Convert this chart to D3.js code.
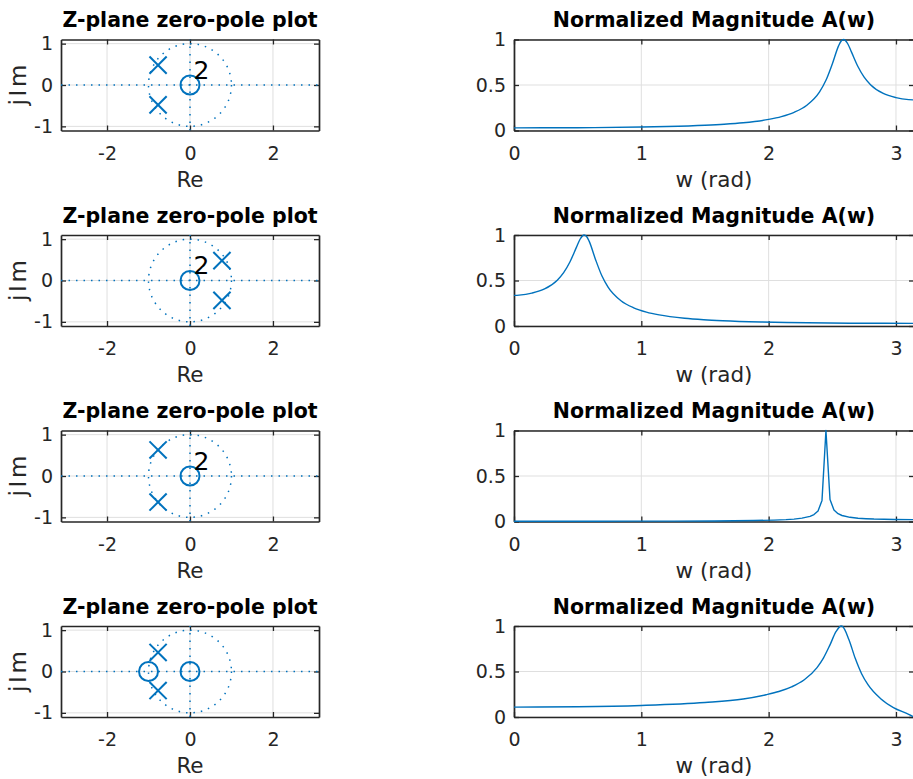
<!DOCTYPE html>
<html>
<head>
<meta charset="utf-8">
<script src="https://cdn.jsdelivr.net/npm/d3@7"></script>
<style>
  html, body { margin: 0; padding: 0; background: #ffffff; }
  svg { display: block; }
</style>
</head>
<body>
<script>
// ---- Filter 1: double zero at origin, poles near 2.58 rad ----
const zeros1 = [[0, 0]];
const zeroMult1 = [2];
const poles1 = [[-0.77, 0.48], [-0.77, -0.48]];
const w1 = [0, 0.5, 1.0, 1.2, 1.5, 1.65, 1.8, 2.0, 2.1, 2.2, 2.3, 2.4, 2.45, 2.5, 2.55, 2.57, 2.59, 2.6, 2.62, 2.65, 2.7, 2.75, 2.8, 2.9, 3.0, 3.1, 3.1416];
const a1 = [0.029, 0.031, 0.038, 0.044, 0.058, 0.069, 0.085, 0.122, 0.153, 0.200, 0.278, 0.425, 0.552, 0.732, 0.933, 0.984, 1.0, 0.993, 0.956, 0.864, 0.706, 0.586, 0.504, 0.407, 0.361, 0.339, 0.336];

// ---- Filter 2: double zero at origin, poles near 0.56 rad ----
const zeros2 = [[0, 0]];
const zeroMult2 = [2];
const poles2 = [[0.77, 0.48], [0.77, -0.48]];
const w2 = [0, 0.04, 0.14, 0.24, 0.34, 0.39, 0.44, 0.49, 0.52, 0.54, 0.55, 0.57, 0.59, 0.64, 0.69, 0.74, 0.84, 0.94, 1.04, 1.14, 1.34, 1.49, 1.64, 1.94, 2.14, 2.64, 3.1416];
const a2 = [0.336, 0.339, 0.361, 0.407, 0.504, 0.586, 0.706, 0.864, 0.956, 0.993, 1.0, 0.984, 0.933, 0.732, 0.552, 0.425, 0.278, 0.200, 0.153, 0.122, 0.085, 0.069, 0.058, 0.044, 0.038, 0.031, 0.029];

// ---- Filter 3: double zero at origin, poles almost on the unit circle ----
const zeros3 = [[0, 0]];
const zeroMult3 = [2];
const poles3 = [[-0.77, 0.63], [-0.77, -0.63]];
const w3 = [0, 0.314, 0.628, 0.942, 1.257, 1.571, 1.728, 1.885, 2.042, 2.136, 2.199, 2.262, 2.325, 2.356, 2.388, 2.419, 2.450, 2.482, 2.513, 2.545, 2.576, 2.639, 2.702, 2.765, 2.827, 2.985, 3.1416];
const a3 = [0.0028, 0.0028, 0.0031, 0.0036, 0.0045, 0.0063, 0.0079, 0.0105, 0.0154, 0.0207, 0.0266, 0.0365, 0.0565, 0.0765, 0.116, 0.232, 1.0, 0.241, 0.126, 0.086, 0.066, 0.046, 0.036, 0.031, 0.027, 0.022, 0.021];

// ---- Filter 4: zeros at 0 and -1, poles near 2.57 rad ----
const zeros4 = [[0, 0], [-1, 0]];
const zeroMult4 = [1, 1];
const poles4 = [[-0.77, 0.46], [-0.77, -0.46]];
const w4 = [0, 0.5, 1.0, 1.5, 1.8, 1.98, 2.08, 2.18, 2.28, 2.38, 2.43, 2.48, 2.53, 2.57, 2.58, 2.63, 2.68, 2.73, 2.78, 2.88, 2.98, 3.1, 3.1416];
const a4 = [0.109, 0.113, 0.127, 0.159, 0.198, 0.245, 0.280, 0.331, 0.409, 0.543, 0.647, 0.787, 0.940, 1.0, 0.995, 0.852, 0.645, 0.476, 0.355, 0.2005, 0.103, 0.029, 0.0];

// ---- Axis limits and ticks ----
const reLimits = [-3.11, 3.11];
const imLimits = [-1.1, 1.1];
const reTicks = [-2, 0, 2];
const imTicks = [-1, 0, 1];
const wLimits = [0, Math.PI];
const magLimits = [0, 1];
const wTicks = [0, 1, 2, 3];
const magTicks = [0, 0.5, 1];

const zplaneTitle = "Z-plane zero-pole plot";
const magTitle = "Normalized Magnitude A(w)";
const reLabel = "Re";
const imLabel = "jIm";
const wLabel = "w (rad)";

const filters = [
  { zeros: zeros1, mult: zeroMult1, poles: poles1, w: w1, a: a1, curve: d3.curveMonotoneX },
  { zeros: zeros2, mult: zeroMult2, poles: poles2, w: w2, a: a2, curve: d3.curveMonotoneX },
  { zeros: zeros3, mult: zeroMult3, poles: poles3, w: w3, a: a3, curve: d3.curveLinear },
  { zeros: zeros4, mult: zeroMult4, poles: poles4, w: w4, a: a4, curve: d3.curveMonotoneX }
];

// ---- Layout and style ----
const WIDTH = 913, HEIGHT = 779;
const ROW0 = 39.5, ROW_STEP = 195.5, BOX_H = 91;
const ZX = [61, 319];   // left (z-plane) axes box
const MX = [514, 914];  // right (magnitude) axes box
const BLUE = "#0072BD";
const AXC = "#262626";
const GRIDC = "#dfdfdf";
const FONT = "'DejaVu Sans', 'Liberation Sans', sans-serif";
const TICK_FS = 19, LABEL_FS = 21.5, TITLE_FS = 20.5;

const svg = d3.select("body").append("svg")
  .attr("width", WIDTH).attr("height", HEIGHT)
  .style("font-family", FONT);

const fmtTick = d => String(d);

function drawFrame(g, x, y, xt, yt, top) {
  const bottom = top + BOX_H;
  const [xl, xr] = x.range();

  // grid
  g.append("g").selectAll("line").data(xt).join("line")
    .attr("x1", d => x(d)).attr("x2", d => x(d))
    .attr("y1", top).attr("y2", bottom)
    .attr("stroke", GRIDC).attr("stroke-width", 1);
  g.append("g").selectAll("line").data(yt).join("line")
    .attr("x1", xl).attr("x2", xr)
    .attr("y1", d => y(d)).attr("y2", d => y(d))
    .attr("stroke", GRIDC).attr("stroke-width", 1);

  const style = sel => {
    sel.attr("font-family", FONT).attr("font-size", TICK_FS);
    sel.select(".domain").attr("stroke", AXC).attr("stroke-width", 1.7);
    sel.selectAll(".tick line").attr("stroke", AXC).attr("stroke-width", 1.3);
    sel.selectAll(".tick text").attr("fill", AXC);
  };

  g.append("g").attr("transform", `translate(0,${bottom})`)
    .call(d3.axisBottom(x).tickValues(xt).tickSizeInner(-5).tickSizeOuter(0)
      .tickPadding(16).tickFormat(fmtTick)).call(style);
  g.append("g").attr("transform", `translate(0,${top})`)
    .call(d3.axisTop(x).tickValues(xt).tickSizeInner(-5).tickSizeOuter(0)
      .tickFormat(() => "")).call(style);
  g.append("g").attr("transform", `translate(${xl},0)`)
    .call(d3.axisLeft(y).tickValues(yt).tickSizeInner(-5).tickSizeOuter(0)
      .tickPadding(8).tickFormat(fmtTick)).call(style);
  g.append("g").attr("transform", `translate(${xr},0)`)
    .call(d3.axisRight(y).tickValues(yt).tickSizeInner(-5).tickSizeOuter(0)
      .tickFormat(() => "")).call(style);
}

function drawTitles(g, x, top, title, xlabel, ylabel) {
  const [xl, xr] = x.range();
  const cx = (xl + xr) / 2;
  g.append("text")
    .attr("x", cx).attr("y", top - 12.5)
    .attr("text-anchor", "middle")
    .attr("font-size", TITLE_FS).attr("font-weight", "bold")
    .attr("fill", "#000")
    .text(title);
  g.append("text")
    .attr("x", cx).attr("y", top + BOX_H + 56)
    .attr("text-anchor", "middle")
    .attr("font-size", LABEL_FS).attr("fill", AXC)
    .text(xlabel);
  if (ylabel) {
    g.append("text")
      .attr("transform", `translate(${xl - 35},${top + BOX_H / 2}) rotate(-90)`)
      .attr("text-anchor", "middle")
      .attr("font-size", 23).attr("fill", AXC)
      .attr("textLength", 41).attr("lengthAdjust", "spacing")
      .text(ylabel);
  }
}

filters.forEach((f, i) => {
  const top = ROW0 + i * ROW_STEP;
  const bottom = top + BOX_H;

  // ---------- z-plane panel ----------
  const gz = svg.append("g");
  const x = d3.scaleLinear().domain(reLimits).range(ZX);
  const y = d3.scaleLinear().domain(imLimits).range([bottom, top]);
  drawFrame(gz, x, y, reTicks, imTicks, top);

  const clipId = `zclip${i}`;
  svg.append("clipPath").attr("id", clipId).append("rect")
    .attr("x", ZX[0]).attr("y", top).attr("width", ZX[1] - ZX[0]).attr("height", BOX_H);
  const gd = gz.append("g").attr("clip-path", `url(#${clipId})`);
  const dotted = "1.5 6";

  // dotted real / imaginary axes and the unit circle
  gd.append("line")
    .attr("x1", x(reLimits[0])).attr("x2", x(reLimits[1]))
    .attr("y1", y(0)).attr("y2", y(0))
    .attr("stroke", BLUE).attr("stroke-width", 1.5).attr("stroke-dasharray", dotted);
  gd.append("line")
    .attr("x1", x(0)).attr("x2", x(0))
    .attr("y1", y(imLimits[0])).attr("y2", y(imLimits[1]))
    .attr("stroke", BLUE).attr("stroke-width", 1.5).attr("stroke-dasharray", dotted);
  gd.append("ellipse")
    .attr("cx", x(0)).attr("cy", y(0))
    .attr("rx", x(1) - x(0)).attr("ry", y(0) - y(1))
    .attr("fill", "none")
    .attr("stroke", BLUE).attr("stroke-width", 1.5).attr("stroke-dasharray", dotted);

  // zeros
  gz.append("g").selectAll("circle").data(f.zeros).join("circle")
    .attr("cx", d => x(d[0])).attr("cy", d => y(d[1]))
    .attr("r", 9.5)
    .attr("fill", "none").attr("stroke", BLUE).attr("stroke-width", 2);

  // multiplicity labels
  gz.append("g").selectAll("text")
    .data(f.zeros.map((d, k) => ({ re: d[0], im: d[1], m: f.mult[k] })).filter(d => d.m > 1))
    .join("text")
    .attr("x", d => x(d.re) + 3.5).attr("y", d => y(d.im) - 6.5)
    .attr("font-size", 25).attr("fill", "#000")
    .text(d => d.m);

  // poles
  const s = 8.6;
  const gp = gz.append("g").selectAll("g").data(f.poles).join("g")
    .attr("transform", d => `translate(${x(d[0])},${y(d[1])})`)
    .attr("stroke", BLUE).attr("stroke-width", 2);
  gp.append("line").attr("x1", -s).attr("y1", -s).attr("x2", s).attr("y2", s);
  gp.append("line").attr("x1", -s).attr("y1", s).attr("x2", s).attr("y2", -s);

  drawTitles(gz, x, top, zplaneTitle, reLabel, imLabel);

  // ---------- magnitude panel ----------
  const gm = svg.append("g");
  const xm = d3.scaleLinear().domain(wLimits).range(MX);
  const ym = d3.scaleLinear().domain(magLimits).range([bottom, top]);
  drawFrame(gm, xm, ym, wTicks, magTicks, top);

  const pts = f.w.map((w, k) => [w, f.a[k]]);
  gm.append("path")
    .datum(pts)
    .attr("fill", "none")
    .attr("stroke", BLUE).attr("stroke-width", 1.4)
    .attr("stroke-linejoin", "round")
    .attr("d", d3.line().x(d => xm(d[0])).y(d => ym(d[1])).curve(f.curve));

  drawTitles(gm, xm, top, magTitle, wLabel, null);
});
</script>
</body>
</html>
